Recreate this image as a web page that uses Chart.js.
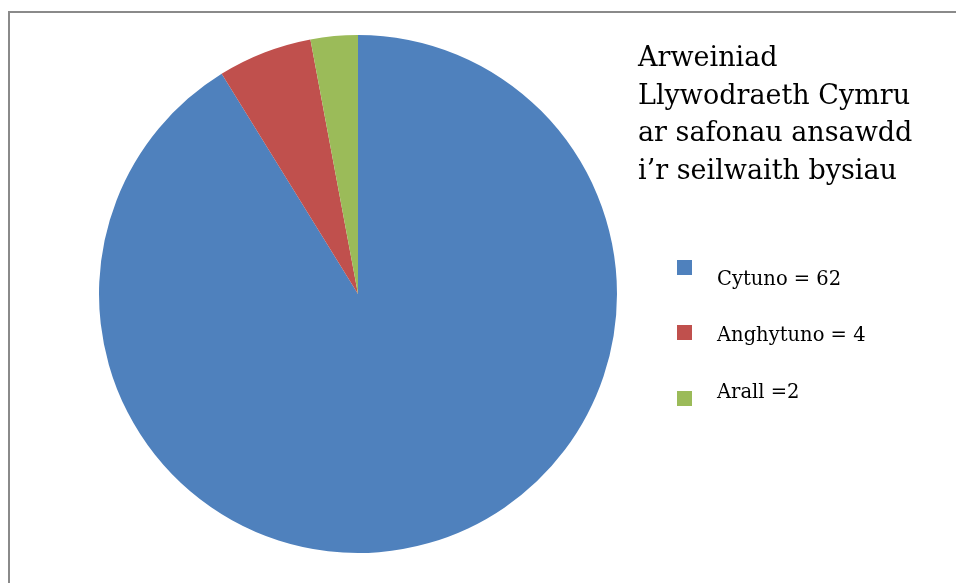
<!DOCTYPE html>
<html>
<head>
<meta charset="utf-8">
<script src="https://cdn.jsdelivr.net/npm/chart.js@4/dist/chart.umd.min.js"></script>
<style>
  html, body { margin: 0; padding: 0; background: #ffffff; }
  #wrap { width: 956px; height: 583px; position: relative; }
</style>
</head>
<body>
<div id="wrap"><canvas id="c" width="956" height="583"></canvas></div>
<script>
const categories = ["Cytuno", "Anghytuno", "Arall"];
const values = [62, 4, 2];
const legendLabels = ["Cytuno = 62", "Anghytuno = 4", "Arall =2"];
const colors = ["#4F81BD", "#C0504D", "#9BBB59"];
const titleLines = ["Arweiniad", "Llywodraeth Cymru", "ar safonau ansawdd", "i\u2019r seilwaith bysiau"];

const decorPlugin = {
  id: 'decor',
  beforeDraw(chart) {
    const ctx = chart.ctx;
    ctx.save();
    ctx.fillStyle = '#ffffff';
    ctx.fillRect(0, 0, chart.width, chart.height);
    ctx.strokeStyle = '#8a8a8a';
    ctx.lineWidth = 2;
    ctx.beginPath();
    ctx.moveTo(9, chart.height + 5);
    ctx.lineTo(9, 12);
    ctx.lineTo(chart.width + 5, 12);
    ctx.stroke();
    ctx.restore();
  },
  afterDraw(chart) {
    const ctx = chart.ctx;
    ctx.save();
    ctx.fillStyle = '#000000';
    ctx.textAlign = 'left';
    ctx.textBaseline = 'alphabetic';
    ctx.font = '27px "DejaVu Serif"';
    const titleBase = [66, 104, 141, 179];
    titleLines.forEach((t, i) => ctx.fillText(t, 638, titleBase[i]));
    ctx.font = '19.5px "DejaVu Serif"';
    const textBase = [285, 341, 398];
    const boxTop = [260, 325, 391];
    legendLabels.forEach((t, i) => {
      ctx.fillStyle = colors[i];
      ctx.fillRect(677, boxTop[i], 15, 15);
      ctx.fillStyle = '#000000';
      ctx.fillText(t, 717, textBase[i]);
    });
    ctx.restore();
  }
};

new Chart(document.getElementById('c'), {
  type: 'pie',
  data: {
    labels: categories,
    datasets: [{
      data: values,
      backgroundColor: colors,
      borderWidth: 0,
      hoverOffset: 0
    }]
  },
  options: {
    responsive: false,
    animation: false,
    devicePixelRatio: 1,
    layout: { padding: { left: 99, right: 339, top: 35, bottom: 30 } },
    plugins: {
      legend: { display: false },
      title: { display: false },
      tooltip: { enabled: false }
    }
  },
  plugins: [decorPlugin]
});
</script>
</body>
</html>
